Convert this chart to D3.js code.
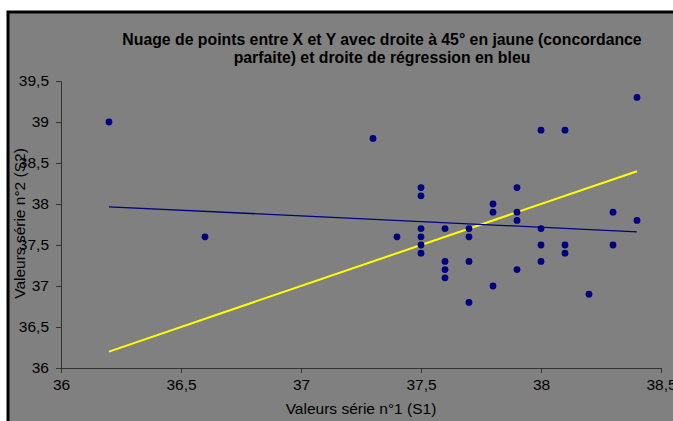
<!DOCTYPE html>
<html><head><meta charset="utf-8">
<script src="https://cdn.jsdelivr.net/npm/d3@7"></script>
<style>html,body{margin:0;padding:0;background:#fff;overflow:hidden}svg{display:block;font-family:"Liberation Sans",Arial,sans-serif}</style>
</head><body>
<svg id="c" width="673" height="421"></svg>
<script>
const titleLines = ["Nuage de points entre X et Y avec droite à 45° en jaune (concordance", "parfaite) et droite de régression en bleu"];
const xLabel = "Valeurs série n°1 (S1)";
const yLabel = "Valeurs série n°2 (S2)";
const xTicks = [36, 36.5, 37, 37.5, 38, 38.5];
const yTicks = [36, 36.5, 37, 37.5, 38, 38.5, 39, 39.5];
const xValues = [36.2, 36.6, 37.3, 37.4, 37.5, 37.5, 37.5, 37.5, 37.5, 37.5, 37.6, 37.6, 37.6, 37.6, 37.7, 37.7, 37.7, 37.7, 37.8, 37.8, 37.8, 37.9, 37.9, 37.9, 37.9, 38.0, 38.0, 38.0, 38.0, 38.1, 38.1, 38.1, 38.2, 38.3, 38.3, 38.4, 38.4];
const yValues = [39.0, 37.6, 38.8, 37.6, 38.2, 38.1, 37.7, 37.6, 37.5, 37.4, 37.7, 37.3, 37.2, 37.1, 37.7, 37.6, 37.3, 36.8, 38.0, 37.9, 37.0, 38.2, 37.9, 37.8, 37.2, 38.9, 37.7, 37.5, 37.3, 38.9, 37.5, 37.4, 36.9, 37.9, 37.5, 39.3, 37.8];

const svg = d3.select("#c");
const fmt = d => String(d).replace(".", ",");
const L = 61, R = 661, T = 81, B = 368;
const x = d3.scaleLinear().domain([36, 38.5]).range([L, R]);
const y = d3.scaleLinear().domain([36, 39.5]).range([B, T]);

// chart area frame
svg.append("rect").attr("x", 8).attr("y", 12).attr("width", 700).attr("height", 450)
  .attr("fill", "#808080").attr("stroke", "#000").attr("stroke-width", 3);

// title
svg.append("text").attr("x", 382).attr("y", 45).attr("text-anchor", "middle")
  .attr("font-size", 15.8).attr("font-weight", "bold").attr("fill", "#000")
  .selectAll("tspan").data(titleLines).join("tspan")
  .attr("x", 382).attr("dy", (d, i) => i ? 18 : 0).text(d => d);

// axes
const xa = svg.append("g").attr("transform", `translate(0,${B})`)
  .call(d3.axisBottom(x).tickValues(xTicks).tickFormat(fmt).tickSize(5).tickPadding(6));
const ya = svg.append("g").attr("transform", `translate(${L},0)`)
  .call(d3.axisLeft(y).tickValues(yTicks).tickFormat(fmt).tickSize(5).tickPadding(7));
[xa, ya].forEach(g => {
  g.selectAll("path,line").attr("stroke", "#333").attr("stroke-width", 1);
  g.selectAll("text").attr("font-size", 15.5).attr("fill", "#000")
   .attr("font-family", "'Liberation Sans',Arial,sans-serif");
});
xa.select(".domain").attr("d", `M${L},0.5H${R}`);
xa.selectAll(".tick text").attr("dy", "0.72em");

// axis titles
svg.append("text").attr("x", (L + R) / 2).attr("y", 414).attr("text-anchor", "middle")
  .attr("font-size", 15.5).attr("fill", "#000").text(xLabel);
svg.append("text").attr("transform", `translate(25,${(T + B) / 2 - 1}) rotate(-90)`)
  .attr("text-anchor", "middle").attr("font-size", 15.5).attr("fill", "#000").text(yLabel);

// data
const pts = xValues.map((v, i) => ({ x: v, y: yValues[i] }));
const x0 = d3.min(xValues), x1 = d3.max(xValues);

// 45° line
svg.append("line").attr("x1", x(x0)).attr("y1", y(x0)).attr("x2", x(x1)).attr("y2", y(x1))
  .attr("stroke", "#ffff00").attr("stroke-width", 2);

// regression line (least squares from data)
const mx = d3.mean(xValues), my = d3.mean(yValues);
const sxy = d3.sum(pts, p => (p.x - mx) * (p.y - my));
const sxx = d3.sum(pts, p => (p.x - mx) * (p.x - mx));
const b = sxy / sxx, a = my - b * mx;
svg.append("line").attr("x1", x(x0)).attr("y1", y(a + b * x0)).attr("x2", x(x1)).attr("y2", y(a + b * x1))
  .attr("stroke", "#000080").attr("stroke-width", 1.3);

svg.append("g").selectAll("circle").data(pts).join("circle")
  .attr("cx", d => x(d.x)).attr("cy", d => y(d.y)).attr("r", 3.4).attr("fill", "#000080");
</script>
</body></html>
